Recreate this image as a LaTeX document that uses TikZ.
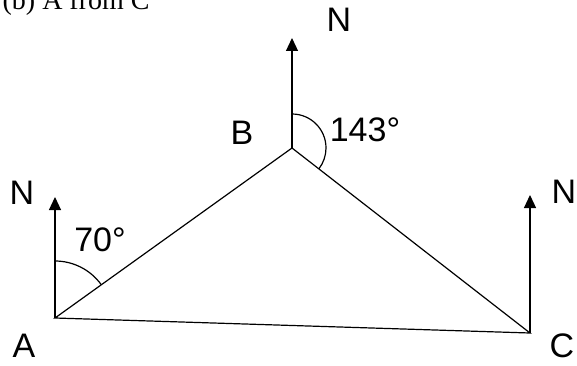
\documentclass[tikz,border=0pt]{standalone}
\usepackage{fontspec}
\setmainfont{Liberation Serif}
\setsansfont{Liberation Sans}
\usetikzlibrary{positioning, arrows.meta}

\begin{document}
\begin{tikzpicture}[
    x=0.5pt, y=0.5pt,
    every node/.style={font=\sffamily\fontsize{17}{20}\selectfont, inner sep=0pt},
    side/.style={line width=0.6pt},
    bearing/.style={-{Triangle[length=6.5pt, width=6pt]}, line width=0.6pt},
    ang/.style={line width=0.6pt},
  ]
    \useasboundingbox (0,0) rectangle (577,365);

    % points of the triangle and tips of the north lines
    \coordinate (A) at (55,47);
    \coordinate (B) at (292,217);
    \coordinate (C) at (530,32);
    \coordinate (nA) at (55,168);
    \coordinate (nB) at (292,327);
    \coordinate (nC) at (530,170);

    \node[font=\rmfamily\fontsize{14}{16}\selectfont, anchor=base east] (title)
      at (150,355) {(b) A from C};

    % triangle
    \draw[side] (A) -- (B) -- (C) -- cycle;

    % north lines
    \draw[bearing] (A) -- (nA);
    \draw[bearing] (B) -- (nB);
    \draw[bearing] (C) -- (nC);

    % bearing arcs
    \draw[ang] ([yshift=28.5pt]A) arc[start angle=90, end angle=35.65, radius=28.5pt];
    \draw[ang] ([yshift=17pt]B) arc[start angle=90, end angle=-37.9,
      x radius=17pt, y radius=17pt];

    % labels
    \node (lA) at (24,19) {A};
    \node (lB) at (242,232) {B};
    \node (lC) at (562,19) {C};
    \node (nlA) at (22,172) {N};
    \node (nlB) at (339,345) {N};
    \node (nlC) at (564,173) {N};
    \node (angA) at (100,125) {70°};
    \node (angB) at (365,235) {143°};
  \end{tikzpicture}
\end{document}
